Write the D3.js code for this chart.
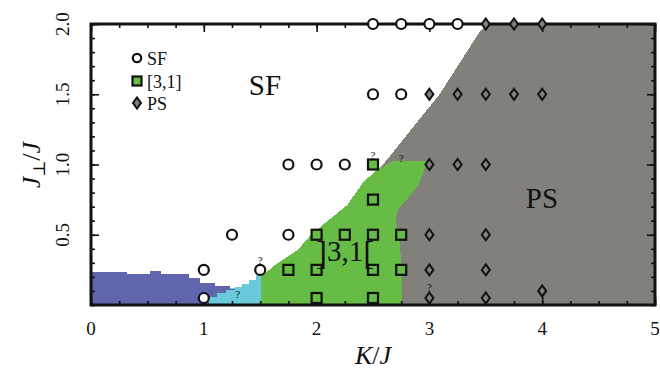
<!DOCTYPE html>
<html>
<head>
<meta charset="utf-8">
<script src="https://cdn.jsdelivr.net/npm/d3@7/dist/d3.min.js"></script>
<style>
  html, body { margin: 0; padding: 0; background: #fff; }
  svg { display: block; }
  text { font-family: "Liberation Serif", "DejaVu Serif", serif; fill: #111; }
</style>
</head>
<body>
<svg id="chart" width="660" height="378"></svg>
<script>
// Phase regions, boundaries given as (K/J, J_perp/J) vertices
const blueRegion = [[0,0],[0,0.237],[0.32,0.237],[0.32,0.218],[0.52,0.218],[0.52,0.24],[0.62,0.24],
  [0.62,0.218],[0.87,0.218],[0.87,0.19],[0.97,0.19],[0.97,0.16],[1.1,0.16],[1.1,0.135],[1.23,0.135],
  [1.23,0.115],[1.28,0.115],[1.28,0.105],[1.2,0.105],[1.2,0.085],[1.12,0.085],[1.12,0.06],[1.05,0.06],[1.05,0]];
const cyanRegion = [[1.0,0],[1.0,0.1],[1.28,0.125],[1.34,0.125],[1.34,0.15],[1.4,0.15],[1.4,0.18],
  [1.46,0.18],[1.46,0.21],[1.5,0.21],[1.5,0.235],[1.52,0.235],[1.52,0]];
const greenRegion = [[1.51,0],[1.51,0.22],[1.55,0.23],[1.63,0.285],[1.83,0.39],[1.95,0.5],[2.1,0.6],
  [2.27,0.71],[2.41,0.87],[2.53,0.96],[2.62,1.0],[2.68,1.027],[2.97,1.027],[2.95,0.95],[2.9,0.85],
  [2.8,0.75],[2.72,0.68],[2.7,0.6],[2.73,0.5],[2.75,0.3],[2.76,0]];
const grayRegion = [[5,0],[5,2],[3.52,2],[3.45,1.95],[3.09,1.5],[2.62,1.03],[2.56,0.975],[2.5,0.9],
  [2.6,0.5],[2.7,0]];

// Simulated parameter points by phase
const sfPoints = [[1,0.05],[1,0.25],[1.25,0.5],[1.5,0.25],[1.75,0.5],[1.75,1],[2,1],[2.25,1],
  [2.5,1.5],[2.75,1.5],[2.5,2],[2.75,2],[3,2],[3.25,2]];
const p31Points = [[1.75,0.25],[2,0.05],[2,0.25],[2,0.5],[2.25,0.5],[2.5,0.05],[2.5,0.25],[2.5,0.5],
  [2.5,0.75],[2.5,1],[2.75,0.25],[2.75,0.5]];
const psPoints = [[3,0.05],[3,0.25],[3,0.5],[3,1],[3.25,1],[3.5,1],[3.5,0.05],[3.5,0.25],[3.5,0.5],
  [4,0.1],[3,1.5],[3.25,1.5],[3.5,1.5],[3.75,1.5],[4,1.5],[3.5,2],[3.75,2],[4,2]];
// Uncertain points, marked with "?"
const uncertain = [[1.5,0.29],[2.5,1.04],[2.75,1.02],[1.3,0.05],[3.0,0.1]];

const xTicks = [0,1,2,3,4,5];
const yTicks = [0.5,1.0,1.5,2.0];
const xMinor = d3.range(0, 5.001, 0.25);
const yMinor = d3.range(0, 2.001, 0.1);

const colors = { blue: "#6065ae", cyan: "#6acad9", green: "#67bc46", gray: "#81807a" };

const svg = d3.select("#chart");
const x = d3.scaleLinear().domain([0,5]).range([91,655]);
const y = d3.scaleLinear().domain([0,2]).range([305,24]);

const line = d3.line().x(d => x(d[0])).y(d => y(d[1]));

const regions = svg.append("g").attr("shape-rendering", "crispEdges");
[[cyanRegion, colors.cyan],[blueRegion, colors.blue],[grayRegion, colors.gray],[greenRegion, colors.green]]
  .forEach(([pts, c]) => regions.append("path").attr("d", line(pts) + "Z").attr("fill", c));

// ticks on all four sides, pointing inward
function addAxis(axisFn, scale, ticks, size, transform) {
  const g = svg.append("g").attr("transform", transform)
    .call(axisFn(scale).tickValues(ticks).tickSizeInner(size).tickSizeOuter(0).tickFormat(""));
  g.select(".domain").remove();
  g.selectAll(".tick line").attr("stroke", "#111").attr("stroke-width", 1.6);
}
addAxis(d3.axisBottom, x, xMinor, -4, "translate(0,305)");
addAxis(d3.axisBottom, x, xTicks, -8, "translate(0,305)");
addAxis(d3.axisTop, x, xMinor, -4, "translate(0,24)");
addAxis(d3.axisTop, x, xTicks, -8, "translate(0,24)");
addAxis(d3.axisLeft, y, yMinor, -4, "translate(91,0)");
addAxis(d3.axisLeft, y, yTicks, -8, "translate(91,0)");
addAxis(d3.axisRight, y, yMinor, -4, "translate(655,0)");
addAxis(d3.axisRight, y, yTicks, -8, "translate(655,0)");

svg.append("rect").attr("x", x(0)).attr("y", y(2)).attr("width", x(5) - x(0)).attr("height", y(0) - y(2))
  .attr("fill", "none").attr("stroke", "#111").attr("stroke-width", 3);

// tick labels
svg.append("g").selectAll("text").data(xTicks).join("text")
  .attr("x", d => x(d)).attr("y", 335).attr("text-anchor", "middle").attr("font-size", 19)
  .text(d => d);
svg.append("g").selectAll("text").data(yTicks).join("text")
  .attr("transform", d => `translate(69,${y(d)}) rotate(-90)`).attr("text-anchor", "middle")
  .attr("font-size", 19).text(d => d.toFixed(1));

// markers
const diamond = "M0,-5.5L4,0L0,5.5L-4,0Z";
function drawSF(g, pts, r) {
  g.selectAll(null).data(pts).join("circle").attr("cx", d => x(d[0])).attr("cy", d => y(d[1]))
    .attr("r", r).attr("fill", "#fff").attr("stroke", "#111").attr("stroke-width", 2.2);
}
function drawSq(g, pts, s) {
  g.selectAll(null).data(pts).join("rect").attr("x", d => x(d[0]) - s/2).attr("y", d => y(d[1]) - s/2)
    .attr("width", s).attr("height", s).attr("fill", colors.green).attr("stroke", "#111").attr("stroke-width", 2.2);
}
function drawPS(g, pts) {
  g.selectAll(null).data(pts).join("path").attr("d", diamond)
    .attr("transform", d => `translate(${x(d[0])},${y(d[1])})`)
    .attr("fill", colors.gray).attr("stroke", "#111").attr("stroke-width", 2);
}
const marks = svg.append("g");
drawSF(marks.append("g"), sfPoints, 5);
drawSq(marks.append("g"), p31Points, 10);
drawPS(marks.append("g"), psPoints);

svg.append("g").selectAll("text").data(uncertain).join("text")
  .attr("x", d => x(d[0])).attr("y", d => y(d[1])).attr("text-anchor", "middle")
  .attr("font-size", 11).attr("fill", "#333").text("?");

// phase labels
svg.append("text").attr("x", 265).attr("y", 95).attr("text-anchor", "middle").attr("font-size", 29).text("SF");
svg.append("text").attr("x", 542).attr("y", 208).attr("text-anchor", "middle").attr("font-size", 29).text("PS");
const lab31 = svg.append("text").attr("x", 345).attr("y", 261).attr("text-anchor", "middle").attr("font-size", 29);
lab31.append("tspan").attr("font-size", 33).attr("dy", 3).text("]");
lab31.append("tspan").attr("dy", -3).text("3,1");
lab31.append("tspan").attr("font-size", 33).attr("dy", 3).text("[");

// legend
const legend = svg.append("g");
const legendItems = ["SF", "[3,1]", "PS"];
drawSF(legend, [[x.invert(137), y.invert(58)]], 4.2);
drawSq(legend, [[x.invert(137), y.invert(81)]], 9);
drawPS(legend, [[x.invert(137), y.invert(103)]]);
legend.selectAll("text").data(legendItems).join("text")
  .attr("x", 147).attr("y", (d, i) => 65 + i * 22.5).attr("font-size", 18).text(d => d);

// axis titles
const xt = svg.append("text").attr("x", 373).attr("y", 364).attr("text-anchor", "middle").attr("font-size", 26);
xt.append("tspan").attr("font-style", "italic").text("K");
xt.append("tspan").text("/");
xt.append("tspan").attr("font-style", "italic").text("J");

const yt = svg.append("text").attr("transform", "translate(40,165) rotate(-90)").attr("text-anchor", "middle").attr("font-size", 26);
yt.append("tspan").attr("font-style", "italic").text("J");
yt.append("tspan").attr("font-size", 17).attr("dy", 5).text("⊥");
yt.append("tspan").attr("dy", -5).text("/");
yt.append("tspan").attr("font-style", "italic").text("J");
</script>
</body>
</html>
